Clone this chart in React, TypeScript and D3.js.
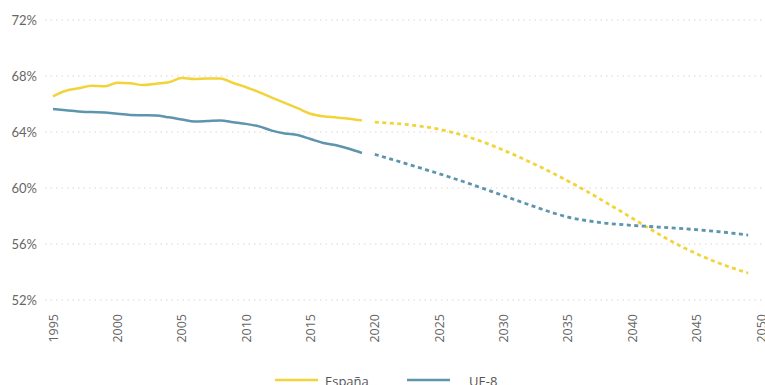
import React from "react";
import * as d3 from "d3";

const histYears = [1995,1996,1997,1998,1999,2000,2001,2002,2003,2004,2005,2006,2007,2008,2009,2010,2011,2012,2013,2014,2015,2016,2017,2018,2019];
const espanaHist = [66.55,66.95,67.12,67.3,67.26,67.52,67.48,67.35,67.45,67.55,67.85,67.78,67.83,67.82,67.5,67.2,66.85,66.46,66.08,65.7,65.3,65.12,65.04,64.95,64.83];
const ue8Hist = [65.64,65.55,65.47,65.42,65.4,65.3,65.22,65.2,65.18,65.05,64.9,64.75,64.78,64.82,64.7,64.58,64.4,64.1,63.9,63.78,63.5,63.22,63.05,62.8,62.5];

const projYears = [2020,2021,2022,2023,2024,2025,2026,2027,2028,2029,2030,2031,2032,2033,2034,2035,2036,2037,2038,2039,2040,2041,2042,2043,2044,2045,2046,2047,2048,2049];
const espanaProj = [64.7,64.65,64.58,64.48,64.36,64.2,63.98,63.72,63.42,63.08,62.7,62.3,61.88,61.44,60.98,60.5,60.0,59.48,58.94,58.4,57.84,57.28,56.74,56.22,55.74,55.3,54.9,54.54,54.22,53.92];
const ue8Proj = [62.4,62.13,61.86,61.58,61.3,61.02,60.72,60.42,60.1,59.78,59.45,59.12,58.8,58.48,58.18,57.92,57.74,57.6,57.48,57.4,57.33,57.27,57.21,57.15,57.09,57.02,56.94,56.85,56.75,56.64];

const yTicks = [52,56,60,64,68,72];
const xTicks = [1995,2000,2005,2010,2015,2020,2025,2030,2035,2040,2045,2050];
const seriesNames = ["España", "UE-8"];
const colors = ["#f2d43a", "#5c95ad"];

export default function App() {
  const W = 765, H = 385;
  const x = d3.scaleLinear().domain([1995, 2050]).range([53, 761]);
  const y = d3.scaleLinear().domain([52, 72]).range([300, 20]);
  const line = d3.line<[number, number]>().x(d => x(d[0])).y(d => y(d[1])).curve(d3.curveMonotoneX);
  const mk = (ys: number[], vs: number[]) => ys.map((yr, i) => [yr, vs[i]] as [number, number]);
  const hist = [mk(histYears, espanaHist), mk(histYears, ue8Hist)];
  const proj = [mk(projYears, espanaProj), mk(projYears, ue8Proj)];
  const legendX = [275, 407];
  const legendTextX = [325, 469];

  return (
    <svg width={W} height={H} style={{ position: "absolute", left: 0, top: 0, background: "#fff" }}>
      {yTicks.map(t => (
        <g key={t}>
          <line x1={45} x2={765} y1={y(t)} y2={y(t)} stroke="#d6d6d6" strokeWidth={1} strokeDasharray="1.5,4" />
          <text x={37} y={y(t)} dy="0.35em" textAnchor="end" fontFamily="Lato" fontSize={13} fill="#666">{t}%</text>
        </g>
      ))}
      {xTicks.map(t => (
        <text key={t} transform={`translate(${x(t) + 4.5},314) rotate(-90)`} textAnchor="end" fontFamily="'Open Sans'" fontSize={12.5} fill="#666">{t}</text>
      ))}
      {hist.map((d, i) => (
        <path key={"h" + i} d={line(d) || ""} fill="none" stroke={colors[i]} strokeWidth={2.5} />
      ))}
      {proj.map((d, i) => (
        <path key={"p" + i} d={line(d) || ""} fill="none" stroke={colors[i]} strokeWidth={2.8} strokeDasharray="4,3.5" />
      ))}
      {seriesNames.map((n, i) => (
        <g key={n}>
          <line x1={legendX[i]} x2={legendX[i] + 43} y1={380} y2={380} stroke={colors[i]} strokeWidth={2.5} />
          <text x={legendTextX[i]} y={386} fontFamily="'Open Sans'" fontSize={13} fill="#555">{n}</text>
        </g>
      ))}
    </svg>
  );
}
